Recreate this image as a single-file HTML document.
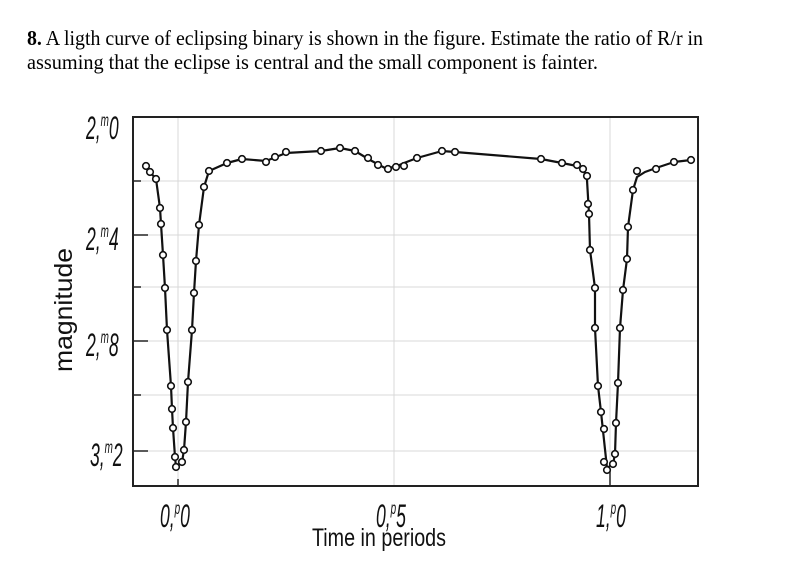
<!DOCTYPE html>
<html><head><meta charset="utf-8"><style>
html,body{margin:0;padding:0;background:#fff;}
svg{display:block;}
</style></head><body>
<svg width="787" height="567" viewBox="0 0 787 567" xmlns="http://www.w3.org/2000/svg">
<rect width="787" height="567" fill="#fff"/>
<g font-family="Liberation Serif, serif" font-size="21" fill="#000">
<text x="27" y="45" textLength="676" lengthAdjust="spacingAndGlyphs"><tspan font-weight="bold">8.</tspan> A ligth curve of eclipsing binary is shown in the figure. Estimate the ratio of R/r in</text>
<text x="27" y="69" textLength="571" lengthAdjust="spacingAndGlyphs">assuming that the eclipse is central and the small component is fainter.</text>
</g>
<g stroke="#d8d8d8" stroke-width="1">
<line x1="133" y1="181" x2="698" y2="181"/>
<line x1="133" y1="235" x2="698" y2="235"/>
<line x1="133" y1="287" x2="698" y2="287"/>
<line x1="133" y1="341" x2="698" y2="341"/>
<line x1="133" y1="395" x2="698" y2="395"/>
<line x1="133" y1="451" x2="698" y2="451"/>
<line x1="178" y1="117" x2="178" y2="486"/>
<line x1="394" y1="117" x2="394" y2="486"/>
<line x1="610" y1="117" x2="610" y2="486"/>
</g>
<rect x="133" y="117" width="565" height="369" fill="none" stroke="#222" stroke-width="2"/>
<g stroke="#222" stroke-width="1.5">
<line x1="133" y1="181" x2="141" y2="181"/>
<line x1="133" y1="235" x2="148" y2="235"/>
<line x1="133" y1="287" x2="141" y2="287"/>
<line x1="133" y1="341" x2="148" y2="341"/>
<line x1="133" y1="395" x2="141" y2="395"/>
<line x1="133" y1="451" x2="148" y2="451"/>
<line x1="178" y1="479" x2="178" y2="486"/>
<line x1="610" y1="470" x2="610" y2="486"/>
</g>
<polyline fill="none" stroke="#111" stroke-width="2.2" stroke-linejoin="round" points="146,166 150,172 156,179 160,208 161,224 163,255 165,288 167,330 171,386 172,409 173,428 175,457 176,467 182,462 184,450 186,422 188,382 192,330 194,293 196,261 199,225 204,187 209,171 227,163 242,159 266,161 286,153 321,151 340,148 355,151 370,160 385,168 395,167 404,163 417,158 442,151 455,152 541,159 562,163 577,166 584,171 587,180 589,214 590,250 595,288 595,328 598,386 601,412 604,440 607,468 613,464 615,454 616,423 618,383 620,328 623,290 627,259 628,227 633,190 637,177 645,172 656,168 674,162 691,160"/>
<g fill="#fff" stroke="#111" stroke-width="1.6">
<circle cx="146" cy="166" r="3.3"/><circle cx="150" cy="172" r="3.3"/><circle cx="156" cy="179" r="3.3"/><circle cx="160" cy="208" r="3.3"/><circle cx="161" cy="224" r="3.3"/><circle cx="163" cy="255" r="3.3"/><circle cx="165" cy="288" r="3.3"/><circle cx="167" cy="330" r="3.3"/><circle cx="171" cy="386" r="3.3"/><circle cx="172" cy="409" r="3.3"/><circle cx="173" cy="428" r="3.3"/><circle cx="175" cy="457" r="3.3"/><circle cx="176" cy="467" r="3.3"/><circle cx="182" cy="462" r="3.3"/><circle cx="184" cy="450" r="3.3"/><circle cx="186" cy="422" r="3.3"/><circle cx="188" cy="382" r="3.3"/><circle cx="192" cy="330" r="3.3"/><circle cx="194" cy="293" r="3.3"/><circle cx="196" cy="261" r="3.3"/><circle cx="199" cy="225" r="3.3"/><circle cx="204" cy="187" r="3.3"/><circle cx="209" cy="171" r="3.3"/><circle cx="227" cy="163" r="3.3"/><circle cx="242" cy="159" r="3.3"/><circle cx="266" cy="162" r="3.3"/><circle cx="275" cy="157" r="3.3"/><circle cx="286" cy="152" r="3.3"/><circle cx="321" cy="151" r="3.3"/><circle cx="340" cy="148" r="3.3"/><circle cx="355" cy="151" r="3.3"/><circle cx="368" cy="158" r="3.3"/><circle cx="378" cy="165" r="3.3"/><circle cx="388" cy="169" r="3.3"/><circle cx="396" cy="167" r="3.3"/><circle cx="404" cy="166" r="3.3"/><circle cx="417" cy="158" r="3.3"/><circle cx="442" cy="151" r="3.3"/><circle cx="455" cy="152" r="3.3"/><circle cx="541" cy="159" r="3.3"/><circle cx="562" cy="163" r="3.3"/><circle cx="577" cy="165" r="3.3"/><circle cx="583" cy="169" r="3.3"/><circle cx="587" cy="176" r="3.3"/><circle cx="588" cy="204" r="3.3"/><circle cx="589" cy="214" r="3.3"/><circle cx="590" cy="250" r="3.3"/><circle cx="595" cy="288" r="3.3"/><circle cx="595" cy="328" r="3.3"/><circle cx="598" cy="386" r="3.3"/><circle cx="601" cy="412" r="3.3"/><circle cx="604" cy="429" r="3.3"/><circle cx="604" cy="462" r="3.3"/><circle cx="607" cy="470" r="3.3"/><circle cx="613" cy="464" r="3.3"/><circle cx="615" cy="454" r="3.3"/><circle cx="616" cy="423" r="3.3"/><circle cx="618" cy="383" r="3.3"/><circle cx="620" cy="328" r="3.3"/><circle cx="623" cy="290" r="3.3"/><circle cx="627" cy="259" r="3.3"/><circle cx="628" cy="227" r="3.3"/><circle cx="633" cy="190" r="3.3"/><circle cx="637" cy="171" r="3.3"/><circle cx="656" cy="169" r="3.3"/><circle cx="674" cy="162" r="3.3"/><circle cx="691" cy="160" r="3.3"/>
</g>
<g font-family="Liberation Sans, sans-serif" font-style="italic" font-size="32" fill="#111">
<text x="0" y="0" transform="translate(86,139) scale(0.55,1)">2,<tspan font-size="18" dy="-13">m</tspan><tspan dy="13">0</tspan></text>
<text x="0" y="0" transform="translate(86,250) scale(0.55,1)">2,<tspan font-size="18" dy="-13">m</tspan><tspan dy="13">4</tspan></text>
<text x="0" y="0" transform="translate(86,356) scale(0.55,1)">2,<tspan font-size="18" dy="-13">m</tspan><tspan dy="13">8</tspan></text>
<text x="0" y="0" transform="translate(90,466) scale(0.55,1)">3,<tspan font-size="18" dy="-13">m</tspan><tspan dy="13">2</tspan></text>
<text x="0" y="0" transform="translate(160,527) scale(0.55,1)">0,<tspan font-size="18" dy="-13">p</tspan><tspan dy="13">0</tspan></text>
<text x="0" y="0" transform="translate(376,527) scale(0.55,1)">0,<tspan font-size="18" dy="-13">p</tspan><tspan dy="13">5</tspan></text>
<text x="0" y="0" transform="translate(596,527) scale(0.55,1)">1,<tspan font-size="18" dy="-13">p</tspan><tspan dy="13">0</tspan></text>
</g>
<text x="312" y="546" font-family="Liberation Sans, sans-serif" font-size="25" fill="#111" textLength="134" lengthAdjust="spacingAndGlyphs">Time in periods</text>
<text x="0" y="0" transform="translate(72,372) rotate(-90)" font-family="Liberation Sans, sans-serif" font-size="25" fill="#111" textLength="124" lengthAdjust="spacingAndGlyphs">magnitude</text>
</svg>
</body></html>
